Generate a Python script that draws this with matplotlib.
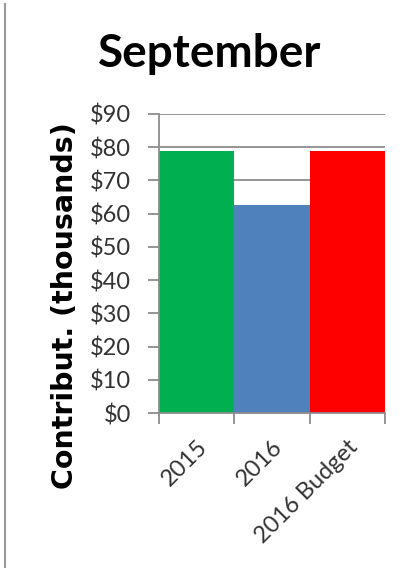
import matplotlib
matplotlib.use("Agg")
from matplotlib import pyplot as plt
from matplotlib.lines import Line2D

categories = ["2015", "2016", "2016 Budget"]
values = [79, 62.5, 79]
colors = ["#00B050", "#4F81BD", "#FF0000"]
yticks = [0, 10, 20, 30, 40, 50, 60, 70, 80, 90]

fig = plt.figure(figsize=(4.12, 5.71), dpi=100)
ax = fig.add_axes([0.386, 0.2767, 0.548, 0.5237])

x = list(range(len(categories)))
ax.bar(x, values, width=1.0, color=colors, zorder=2)

ax.set_xlim(-0.5, len(categories) - 0.5)
ax.set_ylim(0, 90)
ax.set_yticks(yticks)
ax.set_yticklabels([f"${v}" for v in yticks], fontsize=17, family="Lato", color="#333333")
ax.yaxis.grid(True, color="#8c8c8c", linewidth=1.3, zorder=0)
ax.set_axisbelow(True)

ax.set_xticks(x)
ax.set_xticklabels(categories, rotation=45, ha="right", rotation_mode="anchor",
                   fontsize=17, family="Lato", color="#333333")
ax.set_xticks([i - 0.5 for i in range(len(categories) + 1)], minor=True)
ax.tick_params(axis="x", which="major", length=0, pad=17)
ax.tick_params(axis="x", which="minor", length=8, color="#8c8c8c", width=1.3)
ax.tick_params(axis="y", length=8, color="#8c8c8c", width=1.3, pad=12)

for s in ["top", "right"]:
    ax.spines[s].set_visible(False)
for s in ["left", "bottom"]:
    ax.spines[s].set_color("#8c8c8c")
    ax.spines[s].set_linewidth(1.3)

ax.set_ylabel("Contribut. (thousands)", fontsize=20.5, fontweight="bold",
              family="DejaVu Sans", labelpad=8)
ax.yaxis.set_label_coords(-0.355, 0.36)

fig.text(0.51, 0.905, "September", ha="center", va="center",
         fontsize=33, fontweight="bold", family="Lato")

# grey border on the left edge of the image
fig.add_artist(Line2D([0.011, 0.011], [0.007, 0.993], color="#9a9a9a", linewidth=1.5))

fig.savefig("out.png", dpi=100)
